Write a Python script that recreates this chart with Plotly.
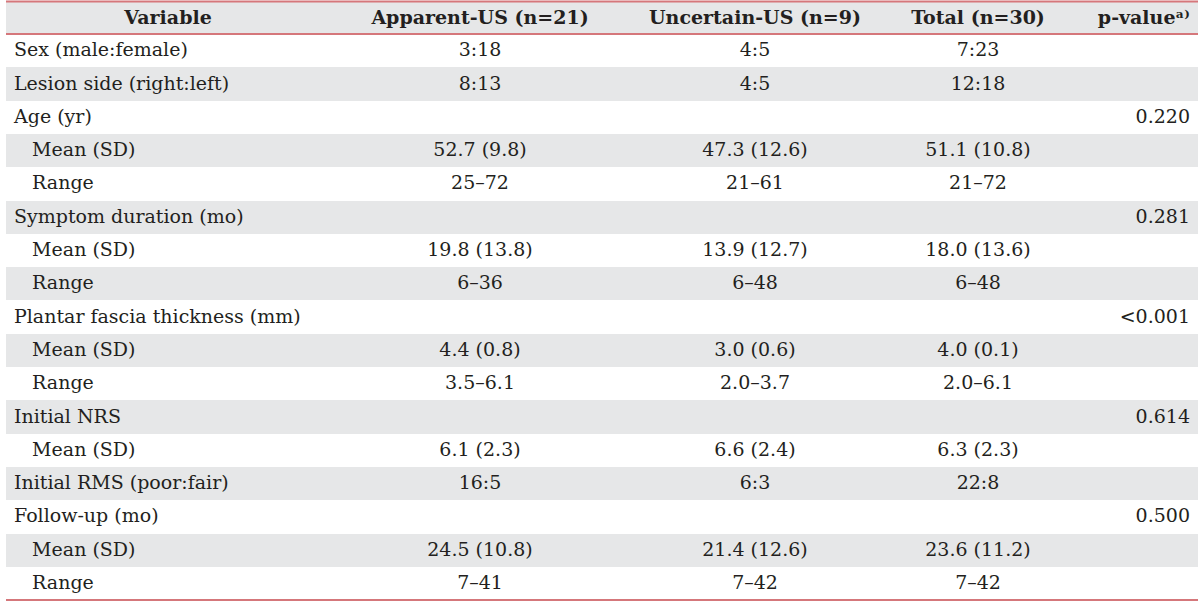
import numpy as np
import plotly.graph_objects as go

W, H = 1200, 604

headers = ["Variable", "Apparent-US (n=21)", "Uncertain-US (n=9)", "Total (n=30)", "p-value\u1d43\u207e"]

variables = ["Sex (male:female)", "Lesion side (right:left)", "Age (yr)", "Mean (SD)", "Range",
             "Symptom duration (mo)", "Mean (SD)", "Range",
             "Plantar fascia thickness (mm)", "Mean (SD)", "Range",
             "Initial NRS", "Mean (SD)", "Initial RMS (poor:fair)",
             "Follow-up (mo)", "Mean (SD)", "Range"]
indented = [False, False, False, True, True, False, True, True, False, True, True,
            False, True, False, False, True, True]
apparent = ["3:18", "8:13", "", "52.7 (9.8)", "25–72", "", "19.8 (13.8)", "6–36", "",
            "4.4 (0.8)", "3.5–6.1", "", "6.1 (2.3)", "16:5", "", "24.5 (10.8)", "7–41"]
uncertain = ["4:5", "4:5", "", "47.3 (12.6)", "21–61", "", "13.9 (12.7)", "6–48", "",
             "3.0 (0.6)", "2.0–3.7", "", "6.6 (2.4)", "6:3", "", "21.4 (12.6)", "7–42"]
total = ["7:23", "12:18", "", "51.1 (10.8)", "21–72", "", "18.0 (13.6)", "6–48", "",
         "4.0 (0.1)", "2.0–6.1", "", "6.3 (2.3)", "22:8", "", "23.6 (11.2)", "7–42"]
pvalues = ["", "", "0.220", "", "", "0.281", "", "", "<0.001", "", "", "0.614", "", "",
           "0.500", "", ""]

NB = "\u00a0"
var_text = [(NB * 3 + v) if ind else v for v, ind in zip(variables, indented)]

# a leading "<" is passed as a cell prefix so the row keeps its fixed height
p_prefix = ["<" if p.startswith("<") else "" for p in pvalues]
p_text = [p[1:] if p.startswith("<") else p for p in pvalues]
n = len(variables)
prefix_grid = np.array([[""] * n, [""] * n, [""] * n, [""] * n, p_prefix], dtype=str)

GRAY = "#e6e7e8"
RED = "#d5777b"
TXT = "#231f20"
FONT = "DejaVu Serif"
FS = 19

row_fill = [("white" if i % 2 == 0 else GRAY) for i in range(n)]

x0, x1 = 6, 1198
top = 2
header_h = 32
cell_h = 33.3

fig = go.Figure(go.Table(
    domain=dict(x=[x0 / W, x1 / W], y=[0, 1 - top / H]),
    columnwidth=[324, 300, 250, 196, 122],
    header=dict(values=headers, fill_color=GRAY, line=dict(width=0, color=GRAY),
                align=["center", "center", "center", "center", "right"],
                font=dict(family=FONT, size=FS, color=TXT, weight="bold"), height=header_h),
    cells=dict(values=[var_text, apparent, uncertain, total, p_text],
               prefix=prefix_grid,
               fill_color=[row_fill] * 5, line=dict(width=0, color="white"),
               align=["left", "center", "center", "center", "right"],
               font=dict(family=FONT, size=FS, color=TXT), height=cell_h),
))

bottom_y = top + header_h + cell_h * n
for yy in [1.5, top + header_h, bottom_y]:
    fig.add_shape(type="line", xref="paper", yref="paper",
                  x0=x0 / W, x1=x1 / W, y0=1 - yy / H, y1=1 - yy / H,
                  line=dict(color=RED, width=2))

fig.update_layout(width=W, height=H, margin=dict(l=0, r=0, t=0, b=0),
                  paper_bgcolor="white", plot_bgcolor="white")
fig.write_html("out.html", config={"displayModeBar": False},
               post_script="document.body.style.margin='0';")
